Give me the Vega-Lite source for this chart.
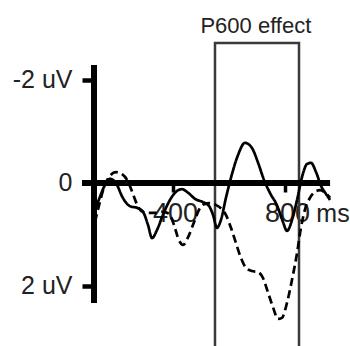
{
  "$schema": "https://vega.github.io/schema/vega-lite/v6.json",
  "autosize": {"type": "none"},
  "padding": {"left": 94, "top": 43, "right": 0, "bottom": 0},
  "width": 256,
  "height": 303,
  "background": "white",
  "config": {"view": {"stroke": null}, "font": "Liberation Sans"},
  "datasets": {
    "erp": [
      {"cond": "solid", "ms": 114, "uv": 0.66},
      {"cond": "solid", "ms": 139, "uv": 0.27},
      {"cond": "solid", "ms": 157, "uv": 0.04},
      {"cond": "solid", "ms": 175, "uv": -0.08},
      {"cond": "solid", "ms": 196, "uv": 0.0},
      {"cond": "solid", "ms": 221, "uv": 0.29},
      {"cond": "solid", "ms": 246, "uv": 0.45},
      {"cond": "solid", "ms": 275, "uv": 0.49},
      {"cond": "solid", "ms": 293, "uv": 0.56},
      {"cond": "solid", "ms": 311, "uv": 0.82},
      {"cond": "solid", "ms": 325, "uv": 1.07},
      {"cond": "solid", "ms": 343, "uv": 0.91},
      {"cond": "solid", "ms": 364, "uv": 0.62},
      {"cond": "solid", "ms": 389, "uv": 0.33},
      {"cond": "solid", "ms": 411, "uv": 0.17},
      {"cond": "solid", "ms": 432, "uv": 0.12},
      {"cond": "solid", "ms": 454, "uv": 0.19},
      {"cond": "solid", "ms": 479, "uv": 0.31},
      {"cond": "solid", "ms": 507, "uv": 0.37},
      {"cond": "solid", "ms": 529, "uv": 0.45},
      {"cond": "solid", "ms": 543, "uv": 0.62},
      {"cond": "solid", "ms": 557, "uv": 0.87},
      {"cond": "solid", "ms": 571, "uv": 0.72},
      {"cond": "solid", "ms": 589, "uv": 0.29},
      {"cond": "solid", "ms": 607, "uv": -0.10},
      {"cond": "solid", "ms": 632, "uv": -0.54},
      {"cond": "solid", "ms": 657, "uv": -0.78},
      {"cond": "solid", "ms": 682, "uv": -0.68},
      {"cond": "solid", "ms": 704, "uv": -0.39},
      {"cond": "solid", "ms": 725, "uv": -0.06},
      {"cond": "solid", "ms": 746, "uv": 0.19},
      {"cond": "solid", "ms": 771, "uv": 0.43},
      {"cond": "solid", "ms": 793, "uv": 0.76},
      {"cond": "solid", "ms": 807, "uv": 0.93},
      {"cond": "solid", "ms": 825, "uv": 0.72},
      {"cond": "solid", "ms": 843, "uv": 0.33},
      {"cond": "solid", "ms": 861, "uv": -0.12},
      {"cond": "solid", "ms": 879, "uv": -0.37},
      {"cond": "solid", "ms": 893, "uv": -0.39},
      {"cond": "solid", "ms": 911, "uv": -0.21},
      {"cond": "solid", "ms": 929, "uv": 0.06},
      {"cond": "solid", "ms": 946, "uv": 0.21},
      {"cond": "solid", "ms": 961, "uv": 0.33},
      {"cond": "dashed", "ms": 121, "uv": 0.76},
      {"cond": "dashed", "ms": 136, "uv": 0.43},
      {"cond": "dashed", "ms": 154, "uv": 0.08},
      {"cond": "dashed", "ms": 175, "uv": -0.14},
      {"cond": "dashed", "ms": 196, "uv": -0.21},
      {"cond": "dashed", "ms": 218, "uv": -0.17},
      {"cond": "dashed", "ms": 236, "uv": -0.06},
      {"cond": "dashed", "ms": 254, "uv": 0.17},
      {"cond": "dashed", "ms": 271, "uv": 0.41},
      {"cond": "dashed", "ms": 286, "uv": 0.54},
      {"cond": "dashed", "ms": 307, "uv": 0.58},
      {"cond": "dashed", "ms": 336, "uv": 0.58},
      {"cond": "dashed", "ms": 364, "uv": 0.56},
      {"cond": "dashed", "ms": 386, "uv": 0.60},
      {"cond": "dashed", "ms": 404, "uv": 0.82},
      {"cond": "dashed", "ms": 421, "uv": 1.11},
      {"cond": "dashed", "ms": 436, "uv": 1.20},
      {"cond": "dashed", "ms": 454, "uv": 1.05},
      {"cond": "dashed", "ms": 475, "uv": 0.76},
      {"cond": "dashed", "ms": 493, "uv": 0.52},
      {"cond": "dashed", "ms": 511, "uv": 0.41},
      {"cond": "dashed", "ms": 532, "uv": 0.39},
      {"cond": "dashed", "ms": 554, "uv": 0.43},
      {"cond": "dashed", "ms": 571, "uv": 0.49},
      {"cond": "dashed", "ms": 589, "uv": 0.62},
      {"cond": "dashed", "ms": 607, "uv": 0.87},
      {"cond": "dashed", "ms": 625, "uv": 1.17},
      {"cond": "dashed", "ms": 643, "uv": 1.46},
      {"cond": "dashed", "ms": 661, "uv": 1.65},
      {"cond": "dashed", "ms": 682, "uv": 1.71},
      {"cond": "dashed", "ms": 704, "uv": 1.73},
      {"cond": "dashed", "ms": 721, "uv": 1.84},
      {"cond": "dashed", "ms": 739, "uv": 2.12},
      {"cond": "dashed", "ms": 757, "uv": 2.41},
      {"cond": "dashed", "ms": 775, "uv": 2.64},
      {"cond": "dashed", "ms": 789, "uv": 2.62},
      {"cond": "dashed", "ms": 807, "uv": 2.33},
      {"cond": "dashed", "ms": 825, "uv": 1.88},
      {"cond": "dashed", "ms": 843, "uv": 1.36},
      {"cond": "dashed", "ms": 857, "uv": 0.87},
      {"cond": "dashed", "ms": 871, "uv": 0.52},
      {"cond": "dashed", "ms": 889, "uv": 0.29},
      {"cond": "dashed", "ms": 907, "uv": 0.17},
      {"cond": "dashed", "ms": 925, "uv": 0.14},
      {"cond": "dashed", "ms": 943, "uv": 0.19},
      {"cond": "dashed", "ms": 961, "uv": 0.29}
    ]
  },
  "encoding": {
    "x": {"type": "quantitative", "scale": {"domain": [117.86, 1032.14], "nice": false, "zero": false}},
    "y": {"type": "quantitative", "scale": {"domain": [-2.718, 3.165], "nice": false, "zero": false, "reverse": true}}
  },
  "layer": [
    {
      "data": {"values": [{}]},
      "mark": {"type": "rect", "fill": null, "fillOpacity": 0, "stroke": "#3a3a3a", "strokeWidth": 2.5, "clip": false},
      "encoding": {
        "x": {"datum": 550, "type": "quantitative"},
        "x2": {"datum": 850},
        "y": {"datum": -2.718, "type": "quantitative"},
        "y2": {"datum": 3.4}
      }
    },
    {
      "data": {"values": [{}]},
      "mark": {"type": "rule", "color": "black", "strokeWidth": 6},
      "encoding": {
        "x": {"datum": 117.86, "type": "quantitative"},
        "y": {"datum": -2.29, "type": "quantitative"},
        "y2": {"datum": 2.33}
      }
    },
    {
      "data": {"values": [{}]},
      "mark": {"type": "rule", "color": "black", "strokeWidth": 6},
      "encoding": {
        "x": {"datum": 75, "type": "quantitative"},
        "x2": {"datum": 961},
        "y": {"datum": 0, "type": "quantitative"}
      }
    },
    {
      "data": {"name": "erp"},
      "mark": {"type": "line", "color": "black", "strokeWidth": 2.7, "interpolate": "monotone", "clip": false},
      "encoding": {
        "x": {
          "field": "ms", "type": "quantitative",
          "axis": {
            "orient": "bottom", "offset": -163, "values": [400, 800], "domain": false, "grid": false,
            "tickSize": 9, "tickWidth": 3.5, "tickColor": "black",
            "labelFontSize": 27, "labelColor": "#222222", "labelPadding": 8, "labelOffset": 2, "title": null
          }
        },
        "y": {
          "field": "uv", "type": "quantitative",
          "axis": {
            "orient": "left", "values": [-2, 0, 2], "domain": false, "grid": false,
            "tickSize": 12, "tickWidth": 4.5, "tickColor": "black",
            "labelFontSize": 25, "labelColor": "#222222", "labelPadding": 10, "title": null,
            "labelExpr": "datum.value == 0 ? '0' : (datum.value < 0 ? '-2 uV' : '2 uV')"
          }
        },
        "detail": {"field": "cond"},
        "strokeDash": {
          "field": "cond", "type": "nominal",
          "scale": {"domain": ["solid", "dashed"], "range": [[1, 0], [8, 4.5]]},
          "legend": null
        }
      }
    },
    {
      "data": {"values": [{}]},
      "mark": {"type": "text", "text": "ms", "fontSize": 25, "align": "left", "baseline": "alphabetic", "color": "#222222"},
      "encoding": {
        "x": {"datum": 912, "type": "quantitative"},
        "y": {"datum": 0.76, "type": "quantitative"}
      }
    },
    {
      "data": {"values": [{}]},
      "mark": {"type": "text", "text": "P600 effect", "fontSize": 22, "align": "center", "baseline": "alphabetic", "color": "#222222"},
      "encoding": {
        "x": {"datum": 696, "type": "quantitative"},
        "y": {"datum": -2.91, "type": "quantitative"}
      }
    }
  ]
}
